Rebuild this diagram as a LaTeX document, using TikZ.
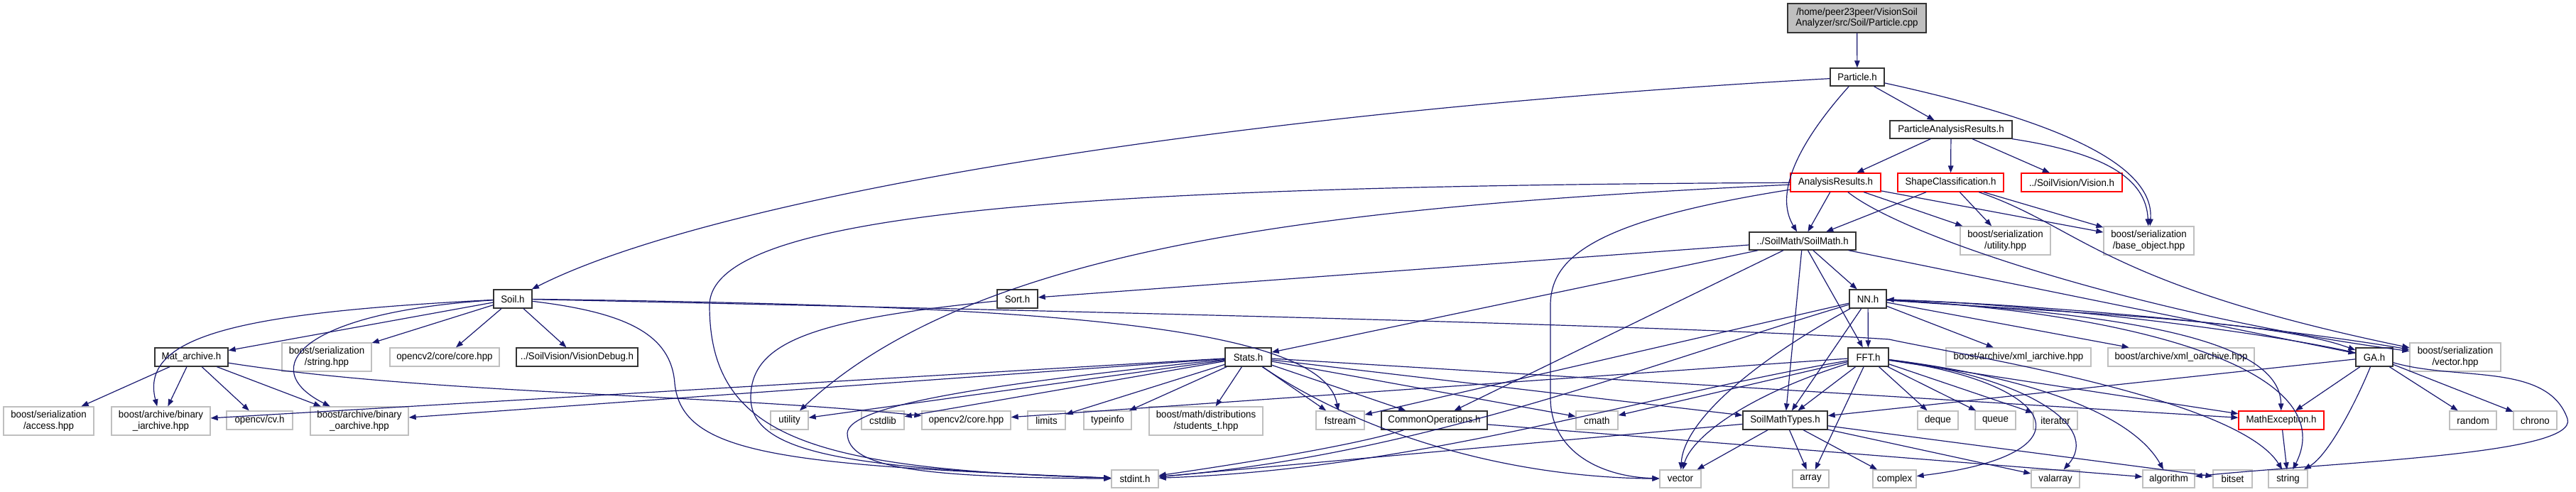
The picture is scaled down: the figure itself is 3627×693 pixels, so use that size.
\documentclass[tikz,border=0pt]{standalone}
\usepackage{fontspec}
\setmainfont{Liberation Sans}[FakeStretch=0.95]
\usetikzlibrary{arrows.meta}
\definecolor{edgec}{HTML}{191970}
\definecolor{grayb}{HTML}{BFBFBF}
\definecolor{rootf}{HTML}{BFBFBF}
\newcommand{\nd}[7]{\node[#6, minimum width=#4pt, minimum height=#5pt] (#1) at (#2,#3) {#7};}
\begin{document}
\begin{tikzpicture}[x=1pt,y=-1pt,
  base/.style={line width=1.3pt, inner sep=0pt, align=center, font=\fontsize{14}{15.5}\selectfont, fill=white},
  doc/.style={base, draw=black!80},
  red/.style={base, draw=red},
  sys/.style={base, draw=grayb},
  rootn/.style={base, draw=black!80, fill=rootf},
  e/.style={draw=edgec, line width=1.2pt, -{Triangle[length=10pt,width=7.5pt]}}]
\useasboundingbox (0,0) rectangle (3627,693);
% row 0-4
\nd{root}{2614.5}{25.5}{195}{41}{rootn}{/home/peer23peer/VisionSoil\\Analyzer/src/Soil/Particle.cpp}
\nd{part}{2615}{108.5}{76}{25}{doc}{Particle.h}
\nd{par}{2747}{182.5}{172}{25}{doc}{ParticleAnalysisResults.h}
\nd{ar}{2584.5}{257}{127}{26}{red}{AnalysisResults.h}
\nd{sc}{2746.5}{257}{149}{26}{red}{ShapeClassification.h}
\nd{vision}{2917}{257}{142}{26}{red}{../SoilVision/Vision.h}
\nd{soilmath}{2538}{339.5}{150}{25}{doc}{../SoilMath/SoilMath.h}
\nd{serutil}{2823.5}{339}{127}{40}{sys}{boost/serialization\\/utility.hpp}
\nd{baseobj}{3025.5}{339}{127}{40}{sys}{boost/serialization\\/base\_object.hpp}
% row 5
\nd{soil}{722}{421}{54}{26}{doc}{Soil.h}
\nd{sort}{1432.5}{421}{57}{26}{doc}{Sort.h}
\nd{nn}{2630}{421}{52}{26}{doc}{NN.h}
% row 6
\nd{matarch}{269.5}{503}{103}{26}{doc}{Mat\_archive.h}
\nd{serstring}{460}{503}{126}{40}{sys}{boost/serialization\\/string.hpp}
\nd{cvcore}{626}{503}{154}{26}{sys}{opencv2/core/core.hpp}
\nd{visiondebug}{812.5}{503}{171}{26}{doc}{../SoilVision/VisionDebug.h}
\nd{stats}{1757.5}{503}{65}{26}{doc}{Stats.h}
\nd{fft}{2630.5}{503}{57}{26}{doc}{FFT.h}
\nd{xmli}{2842}{503}{204}{26}{sys}{boost/archive/xml\_iarchive.hpp}
\nd{xmlo}{3071}{503}{206}{26}{sys}{boost/archive/xml\_oarchive.hpp}
\nd{ga}{3343}{503}{52}{26}{doc}{GA.h}
\nd{servec}{3457}{503}{128}{40}{sys}{boost/serialization\\/vector.hpp}
% row 7
\nd{access}{68.5}{593}{127}{40}{sys}{boost/serialization\\/access.hpp}
\nd{biniarch}{226.5}{593}{139}{40}{sys}{boost/archive/binary\\\_iarchive.hpp}
\nd{cvh}{365.5}{592}{93}{26}{sys}{opencv/cv.h}
\nd{binoarch}{506}{593}{138}{40}{sys}{boost/archive/binary\\\_oarchive.hpp}
\nd{utility}{1111.5}{592}{53}{26}{sys}{utility}
\nd{cstdlib}{1243}{592}{60}{26}{sys}{cstdlib}
\nd{cvcorehpp}{1360.5}{592}{125}{26}{sys}{opencv2/core.hpp}
\nd{limits}{1473.5}{592}{53}{26}{sys}{limits}
\nd{typeinfo}{1559.5}{592}{67}{26}{sys}{typeinfo}
\nd{students}{1698}{593}{160}{40}{sys}{boost/math/distributions\\/students\_t.hpp}
\nd{fstream}{1887}{592}{68}{26}{sys}{fstream}
\nd{commonops}{2019.5}{592}{149}{26}{doc}{CommonOperations.h}
\nd{cmath}{2248.5}{592}{59}{26}{sys}{cmath}
\nd{smtypes}{2513.5}{592}{119}{26}{doc}{SoilMathTypes.h}
\nd{deque}{2728.5}{592}{57}{26}{sys}{deque}
\nd{queue}{2809.5}{592}{57}{26}{sys}{queue}
\nd{iterator}{2894}{592}{62}{26}{sys}{iterator}
\nd{mathexc}{3212}{592}{120}{26}{red}{MathException.h}
\nd{random}{3482}{592}{66}{26}{sys}{random}
\nd{chrono}{3569.5}{592}{61}{26}{sys}{chrono}
% row 8
\nd{stdint}{1598}{674.5}{66}{25}{sys}{stdint.h}
\nd{vector}{2366}{674.5}{58}{25}{sys}{vector}
\nd{array}{2549.5}{674.5}{51}{25}{sys}{array}
\nd{complex}{2667.5}{674.5}{61}{25}{sys}{complex}
\nd{valarray}{2894}{674.5}{68}{25}{sys}{valarray}
\nd{algorithm}{3053.5}{674.5}{73}{25}{sys}{algorithm}
\nd{bitset}{3143.5}{674.5}{55}{25}{sys}{bitset}
\nd{string}{3221.5}{674.5}{55}{25}{sys}{string}
% ---------- edges
\draw[e] (root) -- (part);
\draw[e] (part) .. controls (1700,160) and (1000,280) .. (soil);
\draw[e] (part) .. controls (2560,170) and (2490,260) .. (soilmath);
\draw[e] (part) -- (par);
\draw[e] (part) .. controls (2850,160) and (3035,220) .. (baseobj);
\draw[e] (par) -- (ar);
\draw[e] (par) -- (sc);
\draw[e] (par) -- (vision);
\draw[e] (par) .. controls (2960,215) and (3022,250) .. (baseobj);
\draw[e] (ar) -- (soilmath);
\draw[e] (ar) -- (serutil);
\draw[e] (ar) -- (baseobj);
\draw[e] (ar) .. controls (2690,340) and (3050,450) .. (servec);
\draw[e] (ar) .. controls (1500,262) and (1000,300) .. (999,430) .. controls (999,620) and (1150,660) .. (stdint);
\draw[e] (ar) .. controls (1900,290) and (1380,340) .. (utility);
\draw[e] (ar) .. controls (2250,310) and (2183,360) .. (2183,430) -- (2183,560) .. controls (2183,640) and (2260,672) .. (vector);
\draw[e] (sc) -- (soilmath);
\draw[e] (sc) -- (serutil);
\draw[e] (sc) -- (baseobj);
\draw[e] (sc) .. controls (2930,320) and (2960,400) .. (servec);
% SoilMath
\draw[e] (soilmath) -- (sort);
\draw[e] (soilmath) -- (stats);
\draw[e] (soilmath) -- (commonops);
\draw[e] (soilmath) -- (smtypes);
\draw[e] (soilmath) -- (fft);
\draw[e] (soilmath) -- (nn);
\draw[e] (soilmath) -- (ga);
% Sort
\draw[e] (sort) .. controls (1150,450) and (1057,480) .. (1057,560) .. controls (1057,640) and (1200,660) .. (stdint);
% Soil
\draw[e] (soil) -- (matarch);
\draw[e] (soil) -- (serstring);
\draw[e] (soil) -- (cvcore);
\draw[e] (soil) -- (visiondebug);
\draw[e] (soil) .. controls (350,440) and (195,470) .. (biniarch);
\draw[e] (soil) .. controls (420,440) and (360,520) .. (binoarch);
\draw[e] (soil) .. controls (880,440) and (945,470) .. (950,540) .. controls (960,640) and (1100,655) .. (stdint);
\draw[e] (soil) .. controls (1400,430) and (1860,450) .. (fstream);
\draw[e] (soil) .. controls (1600,440) and (2400,460) .. (2660,478) .. controls (2760,500) and (3150,560) .. (string);
% Mat_archive
\draw[e] (matarch) -- (access);
\draw[e] (matarch) -- (biniarch);
\draw[e] (matarch) -- (cvh);
\draw[e] (matarch) -- (binoarch);
\draw[e] (matarch) .. controls (600,555) and (1000,555) .. (cvcorehpp);
% Stats
\draw[e] (stats) -- (utility);
\draw[e] (stats) -- (cstdlib);
\draw[e] (stats) -- (limits);
\draw[e] (stats) -- (typeinfo);
\draw[e] (stats) -- (students);
\draw[e] (stats) -- (biniarch);
\draw[e] (stats) -- (binoarch);
\draw[e] (stats) .. controls (1400,540) and (1195,570) .. (1193,610) .. controls (1193,660) and (1300,672) .. (stdint);
\draw[e] (stats) -- (fstream);
\draw[e] (stats) -- (commonops);
\draw[e] (stats) -- (cmath);
\draw[e] (stats) -- (smtypes);
\draw[e] (stats) -- (mathexc);
\draw[e] (stats) .. controls (1900,600) and (2100,672) .. (vector);
% NN
\draw[e] (nn) -- (fft);
\draw[e] (nn) -- (smtypes);
\draw[e] (nn) -- (fstream);
\draw[e] (nn) .. controls (2300,520) and (2000,640) .. (stdint);
\draw[e] (nn) .. controls (2450,520) and (2370,600) .. (vector);
\draw[e] (nn) -- (xmli);
\draw[e] (nn) -- (xmlo);
\draw[e] (nn) .. controls (2900,440) and (3200,450) .. (ga);
\draw[e] (ga) .. controls (3200,470) and (2900,430) .. (nn);
\draw[e] (nn) .. controls (2900,430) and (3200,460) .. (servec);
\draw[e] (nn) .. controls (2950,440) and (3210,470) .. (mathexc);
\draw[e] (nn) .. controls (3000,440) and (3300,520) .. (string);
% FFT
\draw[e] (fft) -- (smtypes);
\draw[e] (fft) -- (array);
\draw[e] (fft) .. controls (2450,560) and (2380,620) .. (vector);
\draw[e] (fft) .. controls (2300,560) and (2000,660) .. (stdint);
\draw[e] (fft) -- (cmath);
\draw[e] (fft) -- (cvcorehpp);
\draw[e] (fft) -- (deque);
\draw[e] (fft) -- (queue);
\draw[e] (fft) -- (iterator);
\draw[e] (fft) .. controls (2900,540) and (2950,640) .. (complex);
\draw[e] (fft) .. controls (2850,530) and (2960,600) .. (valarray);
\draw[e] (fft) .. controls (2850,530) and (3000,580) .. (algorithm);
\draw[e] (fft) -- (mathexc);
% GA
\draw[e] (ga) -- (smtypes);
\draw[e] (ga) -- (mathexc);
\draw[e] (ga) .. controls (3320,560) and (3280,640) .. (string);
\draw[e] (ga) -- (random);
\draw[e] (ga) -- (chrono);
\draw[e] (ga) .. controls (3460,537) and (3587,510) .. (3615,590) .. controls (3630,640) and (3300,650) .. (algorithm);
% others
\draw[e] (mathexc) -- (string);
\draw[e] (commonops) .. controls (1900,630) and (1700,660) .. (stdint);
\draw[e] (commonops) -- (algorithm);
\draw[e] (smtypes) -- (vector);
\draw[e] (smtypes) -- (array);
\draw[e] (smtypes) -- (complex);
\draw[e] (smtypes) -- (stdint);
\draw[e] (smtypes) -- (valarray);
\draw[e] (smtypes) -- (bitset);
\end{tikzpicture}
\end{document}
